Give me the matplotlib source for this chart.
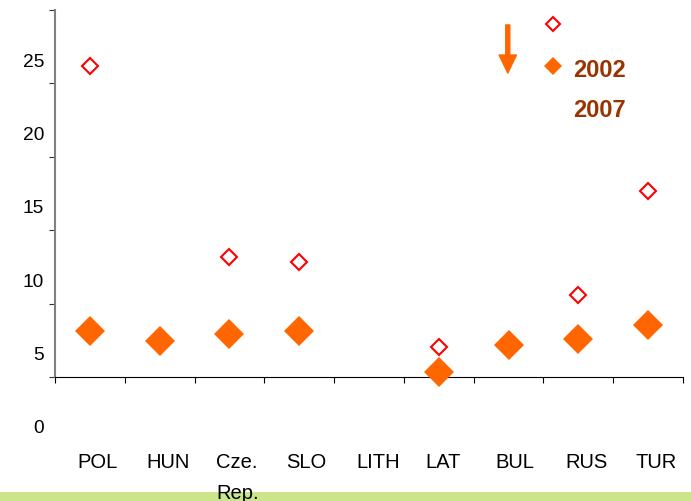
import numpy as np
from matplotlib import pyplot as plt
from matplotlib.patches import Rectangle

countries = ['POL', 'HUN', 'Cze.\nRep.', 'SLO', 'LITH', 'LAT', 'BUL', 'RUS', 'TUR']
values_2002 = [24.7, np.nan, 11.7, 11.4, np.nan, 5.6, np.nan, 9.1, 16.2]
values_2007 = [6.7, 6.0, 6.5, 6.7, np.nan, 3.9, 5.7, 6.1, 7.1]
y_labels = [0, 5, 10, 15, 20, 25]
legend_years = ['2002', '2007']

plt.rcParams['font.family'] = ['Liberation Sans', 'DejaVu Sans']

fig = plt.figure(figsize=(6.91, 5.01), dpi=100)
ax = fig.add_axes([55/691, 124/501, 628/691, 367.5/501])
ax.set_zorder(2)
ax.patch.set_alpha(0)

x = np.arange(len(countries))
ax.plot(x, values_2002, linestyle='none', marker='D', markersize=7.7,
        markerfacecolor='white', markeredgecolor='#ff0000', markeredgewidth=1.5,
        zorder=5, clip_on=False)
ax.plot(x, values_2007, linestyle='none', marker='D', markersize=15,
        markerfacecolor='#ff6600', markeredgecolor='#ff6600', markeredgewidth=0,
        zorder=6, clip_on=False)

# axis range: tick marks sit half a step off the printed numbers in the original
ax.set_xlim(-0.5, len(countries) - 0.5)
ax.set_ylim(3.54, 28.58)
ax.set_xticks(np.arange(-0.5, len(countries)))
ax.set_xticklabels([])
ax.set_yticks(3.54 + np.arange(6) * 5)
ax.set_yticklabels([])
ax.tick_params(axis='x', direction='out', length=4.3, width=0.8, color='black')
ax.tick_params(axis='y', direction='out', length=4.3, width=0.8, color='#333333')

for side in ['top', 'right']:
    ax.spines[side].set_visible(False)
ax.spines['left'].set_color('#808080')
ax.spines['left'].set_linewidth(1.5)
ax.spines['bottom'].set_color('black')
ax.spines['bottom'].set_linewidth(0.8)

for v in y_labels:
    ax.text(-0.0175, v, str(v), transform=ax.get_yaxis_transform(),
            ha='right', va='center', fontsize=13.8, color='black', clip_on=False)

for i, name in enumerate(countries):
    ax.text(i - 0.186, -0.207, name, transform=ax.get_xaxis_transform(),
            ha='left', va='top', fontsize=14.5, color='black',
            linespacing=1.82, multialignment='left', clip_on=False)

# hand-made legend
ax.plot([0.793], [0.9605], transform=ax.transAxes, marker='D', markersize=7.5,
        markerfacecolor='white', markeredgecolor='#ff0000', markeredgewidth=1.5,
        clip_on=False)
ax.plot([0.793], [0.846], transform=ax.transAxes, marker='D', markersize=9,
        markerfacecolor='#ff6600', markeredgewidth=0, clip_on=False)
ax.text(0.825, 0.835, legend_years[0], transform=ax.transAxes, fontsize=17,
        fontweight='bold', color='#993300', ha='left', va='center')
ax.text(0.825, 0.724, legend_years[1], transform=ax.transAxes, fontsize=17,
        fontweight='bold', color='#993300', ha='left', va='center')
ax.annotate('', xy=(0.721, 0.827), xytext=(0.721, 0.958), xycoords='axes fraction',
            arrowprops=dict(width=2.9, headwidth=12.5, headlength=13,
                            color='#ff6600', shrink=0))

fig.patches.append(Rectangle((0, 0), 1, 9/501, transform=fig.transFigure,
                             facecolor='#cce58a', edgecolor='none', zorder=0))

plt.savefig('out.png', dpi=100)
